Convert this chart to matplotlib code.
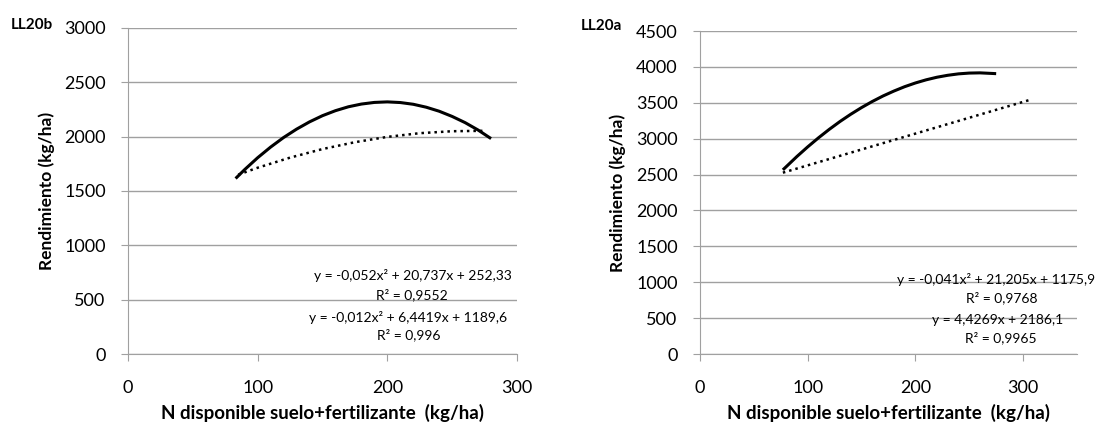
import matplotlib
matplotlib.use("Agg")
import matplotlib.pyplot as plt

plt.rcParams["font.family"] = ["Lato", "DejaVu Sans"]

# LL20b (left)
b_x_solid = [83, 90, 100, 110, 120, 130, 140, 150, 160, 170, 180,
             190, 200, 210, 220, 230, 240, 250, 260, 270, 280]
b_y_solid = [1615, 1697, 1806, 1904, 1992, 2069, 2136, 2193, 2239, 2275, 2300,
             2315, 2320, 2314, 2298, 2271, 2234, 2186, 2129, 2061, 1982]
b_x_dot = [85, 100, 125, 150, 175, 200, 225, 250, 275]
b_y_dot = [1650, 1714, 1807, 1886, 1949, 1998, 2032, 2050, 2054]
b_eq = ["y = -0,052x² + 20,737x + 252,33", "R² = 0,9552",
        "y = -0,012x² + 6,4419x + 1189,6", "R² = 0,996"]

# LL20a (right)
a_x_solid = [77, 90, 100, 110, 120, 130, 140, 150, 160, 170, 180,
             190, 200, 210, 220, 230, 240, 250, 260, 275]
a_y_solid = [2566, 2752, 2886, 3012, 3130, 3240, 3341, 3434, 3519, 3596, 3664,
             3725, 3777, 3821, 3857, 3884, 3904, 3915, 3918, 3907]
a_x_dot = [77, 308]
a_y_dot = [2527, 3549]
a_eq = ["y = -0,041x² + 21,205x + 1175,9", "R² = 0,9768",
        "y = 4,4269x + 2186,1", "R² = 0,9965"]

xlabel = "N disponible suelo+fertilizante  (kg/ha)"
ylabel = "Rendimiento (kg/ha)"
grey = "#A0A0A0"

fig = plt.figure(figsize=(11.04, 4.26), dpi=100)
ax1 = fig.add_axes([0.1159, 0.169, 0.3524, 0.7653])
ax2 = fig.add_axes([0.634, 0.169, 0.3415, 0.758])


def style(ax, xmax, ymax, ystep, ylx, xly):
    ax.set_xlim(0, xmax)
    ax.set_ylim(0, ymax)
    ax.set_xticks(range(0, xmax + 1, 100))
    ax.set_yticks(range(0, ymax + 1, ystep))
    ax.yaxis.grid(True, color=grey, lw=1)
    ax.set_axisbelow(True)
    for s in ["top", "right"]:
        ax.spines[s].set_visible(False)
    for s in ["left", "bottom"]:
        ax.spines[s].set_color(grey)
    ax.tick_params(colors=grey, labelcolor="black", labelsize=13, length=5, direction="out")
    ax.tick_params(axis="x", pad=14)
    ax.tick_params(axis="y", pad=11)
    ax.set_xlabel(xlabel, fontsize=13.5, fontweight="bold", va="center")
    ax.set_ylabel(ylabel, fontsize=12.5, fontweight="bold", va="center")
    ax.xaxis.set_label_coords(0.5, xly)
    ax.yaxis.set_label_coords(ylx, 0.5)


style(ax1, 300, 3000, 500, -0.208, -0.181)
style(ax2, 350, 4500, 500, -0.2175, -0.183)

for ax, xs, ys, xd, yd in [(ax1, b_x_solid, b_y_solid, b_x_dot, b_y_dot),
                           (ax2, a_x_solid, a_y_solid, a_x_dot, a_y_dot)]:
    ax.plot(xs, ys, color="black", lw=2.2, solid_capstyle="butt", solid_joinstyle="round")
    ax.plot(xd, yd, color="black", lw=1.8, linestyle=(0, (1, 1.6)))


# equation labels (figure pixel coords from top-left)
def ftext(x, y, s, **kw):
    fig.text(x / 1104, 1 - y / 426, s, ha="center", va="center", **kw)


for (x, y), s in zip([(413, 276), (412, 295), (408, 317), (409, 335)], b_eq):
    ftext(x, y, s, fontsize=10)
for (x, y), s in zip([(996, 280), (1002, 298), (998, 320), (1001, 338)], a_eq):
    ftext(x, y, s, fontsize=10)

ftext(32, 25, "LL20b", fontsize=11, fontweight="bold")
ftext(601, 26, "LL20a", fontsize=11, fontweight="bold")

fig.savefig("out.png", dpi=100)
